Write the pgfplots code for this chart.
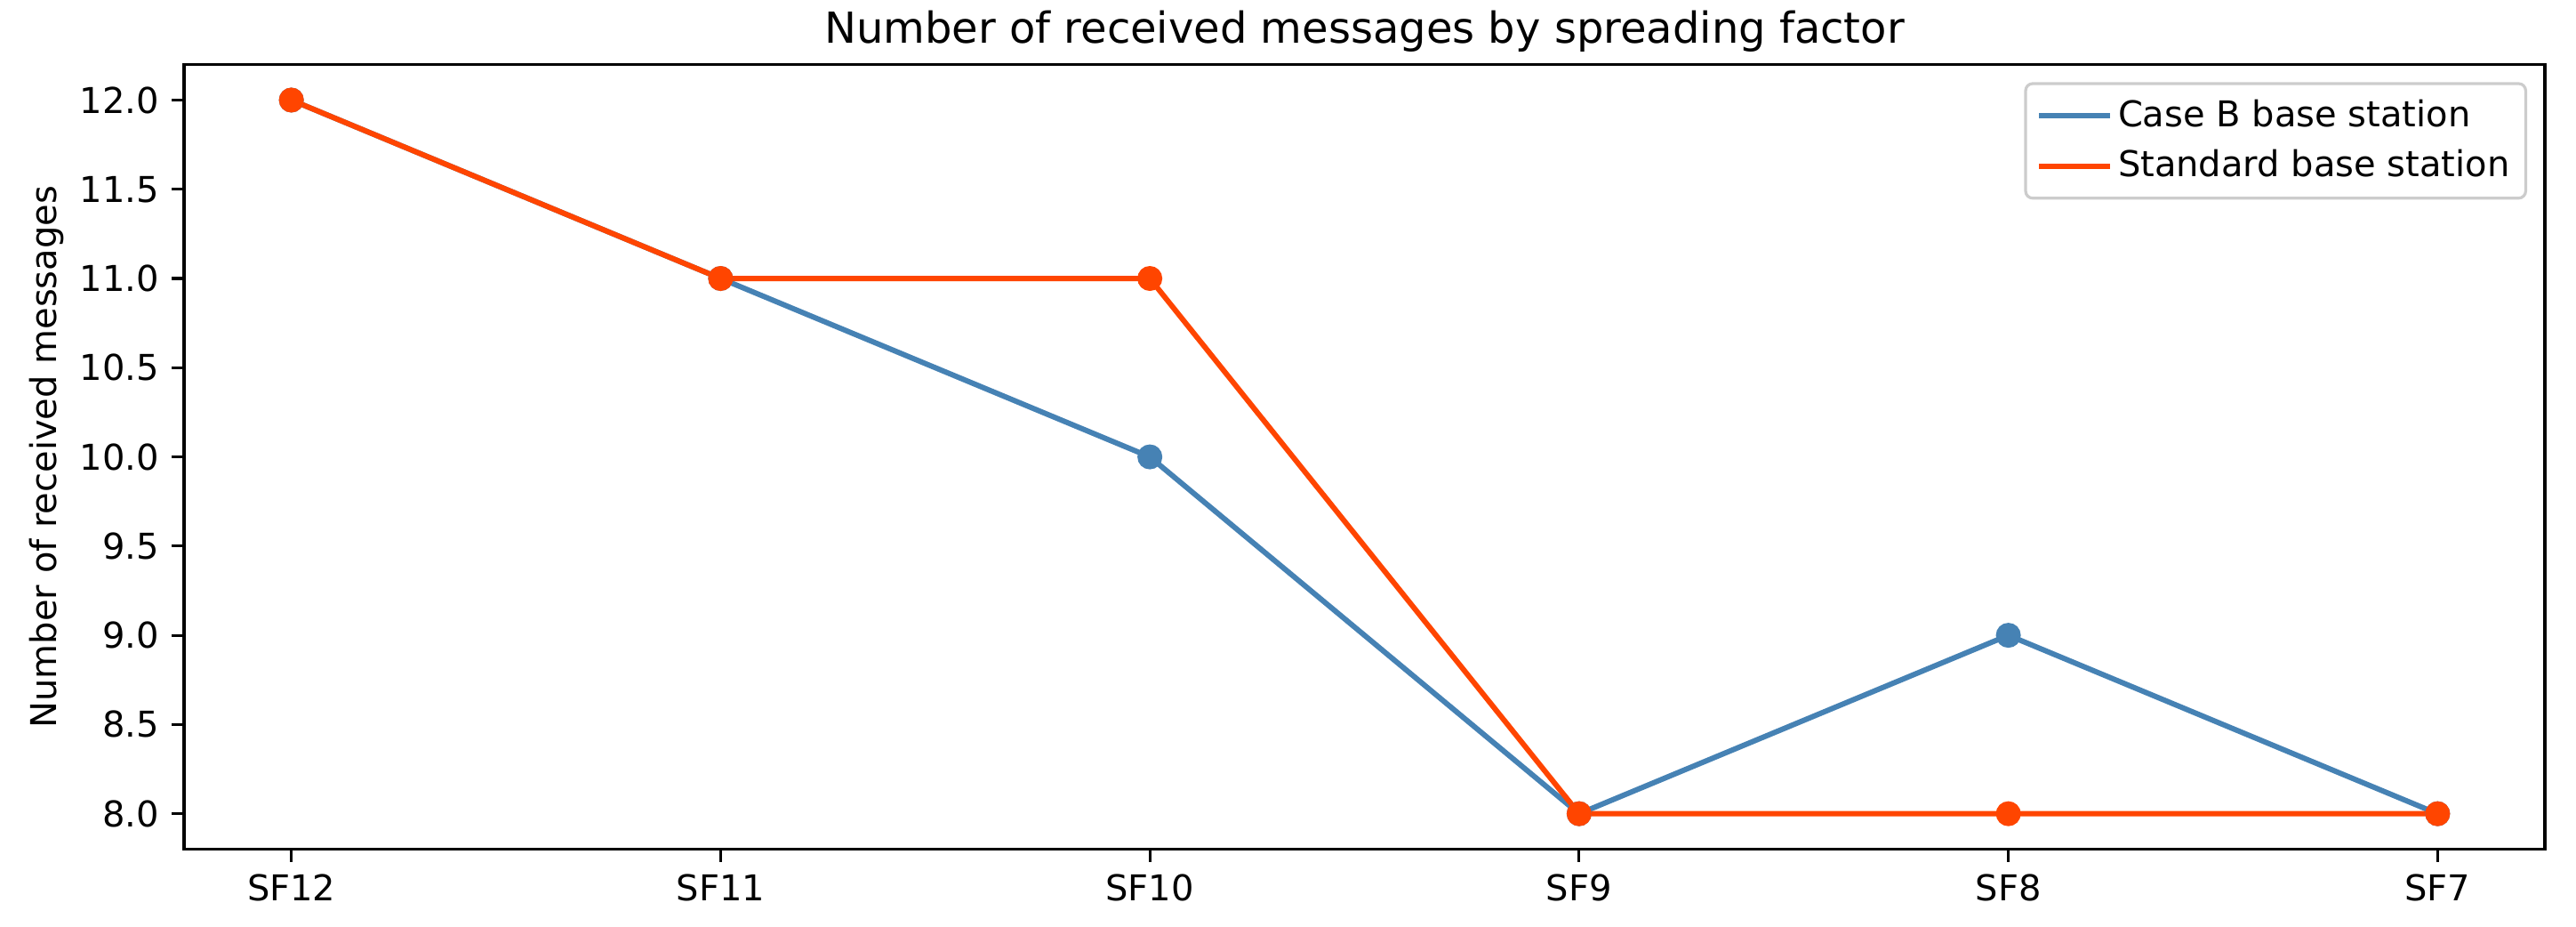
\documentclass[border=0pt]{standalone}
\usepackage{pgfplots}
\pgfplotsset{compat=1.18}
\usepackage{fontspec}
\setmainfont{DejaVu Sans}
\definecolor{cb}{HTML}{4682B4}
\definecolor{st}{HTML}{FF4500}
\begin{document}
\begin{tikzpicture}
\begin{axis}[name=ax, scale only axis, width=663.75pt, height=220.6pt,
  xmin=-0.25, xmax=5.25, ymin=7.8, ymax=12.2,
  xtick={0,1,2,3,4,5}, xticklabels={SF12,SF11,SF10,SF9,SF8,SF7},
  ytick={8,8.5,9,9.5,10,10.5,11,11.5,12},
  yticklabel style={/pgf/number format/.cd, fixed, fixed zerofill, precision=1},
  /pgf/number format/assume math mode=true,
  tick align=outside, tick pos=left, major tick length=3.5pt,
  every tick/.style={black, line width=0.8pt},
  axis line style={line width=0.8pt},
  font=\fontsize{10}{12}\selectfont,
  ylabel={Number of received messages},
  ylabel style={xshift=0pt, yshift=-2.3pt},
  legend style={at={(1,1)}, anchor=north east, xshift=-5pt, yshift=-5pt,
    draw=black!20, line width=0.8pt, rounded corners=2pt, fill=white, fill opacity=0.8, text opacity=1,
    font=\fontsize{10}{12}\selectfont, inner xsep=3pt, inner ysep=3pt, row sep=2pt,
    nodes={inner sep=1.5pt}},
  legend cell align=left,
  legend image code/.code={\draw[#1,mark=none] (0pt,0pt) -- (20pt,0pt);},
]
\addplot[cb, line width=1.5pt, mark=*, mark size=3pt, mark options={solid, fill=cb, draw=cb, line width=1pt}] coordinates {(0,12) (1,11) (2,10) (3,8) (4,9) (5,8)};
\addlegendentry{Case B base station}
\addplot[st, line width=1.5pt, mark=*, mark size=3pt, mark options={solid, fill=st, draw=st, line width=1pt}] coordinates {(0,12) (1,11) (2,11) (3,8) (4,8) (5,8)};
\addlegendentry{Standard base station}
\end{axis}
\node[anchor=base, inner sep=0pt, font=\fontsize{12}{14}\selectfont] at ([yshift=6pt]ax.north) {Number of received messages by spreading factor};
\pgfresetboundingbox
\path ([shift={(-51.75pt,-21.75pt)}]ax.south west) rectangle ([shift={(8.75pt,18.1pt)}]ax.north east);
\end{tikzpicture}
\end{document}
